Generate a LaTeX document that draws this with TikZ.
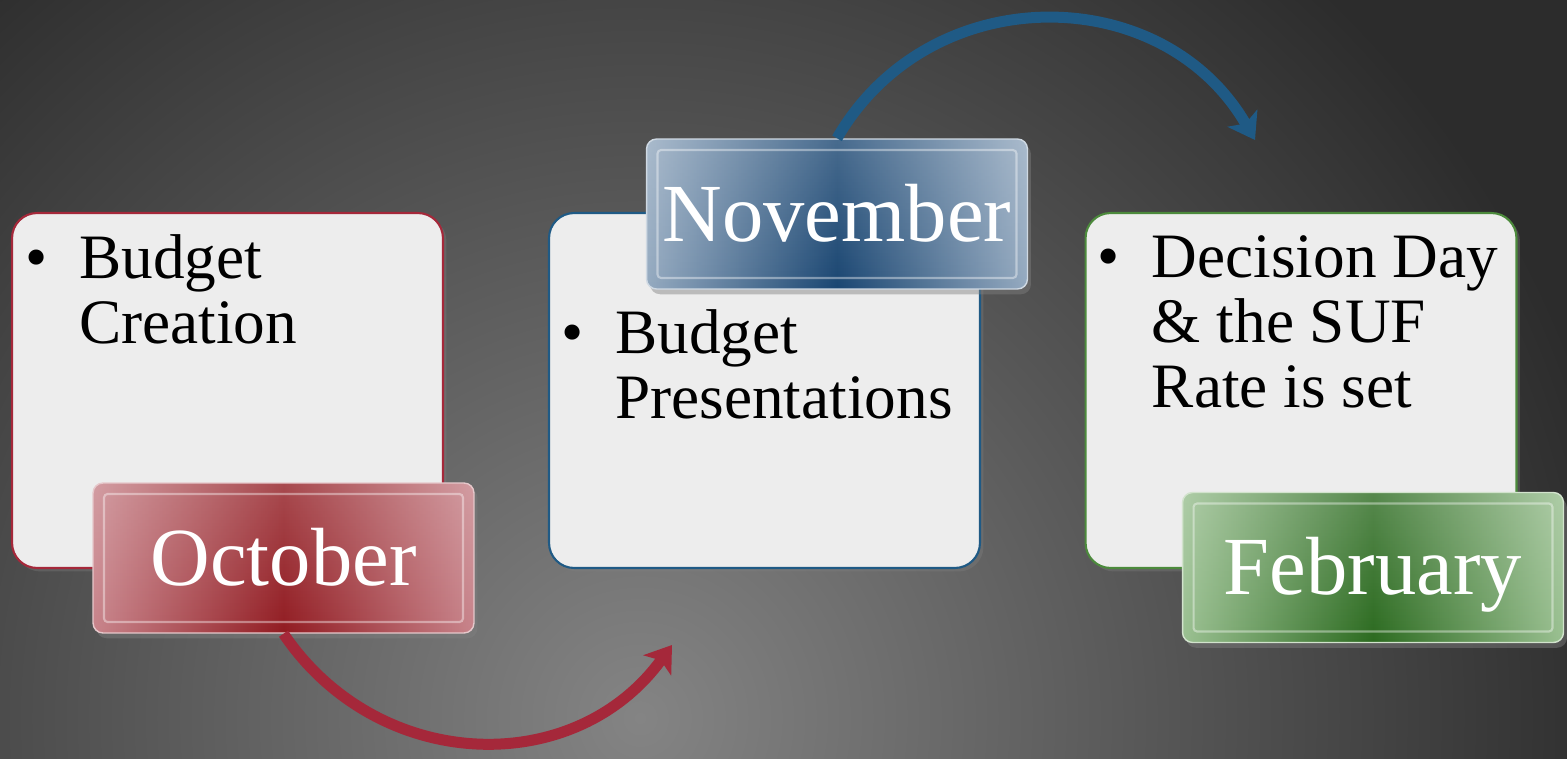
\documentclass[tikz,border=0pt]{standalone}
\usepackage{fontspec}
\setmainfont{Liberation Serif}
\usetikzlibrary{arrows.meta,shadows,fadings,positioning}

\definecolor{bgdark}{HTML}{2C2C2C}
\definecolor{bglight}{HTML}{848484}
\definecolor{cardfill}{HTML}{EDEDED}
\definecolor{octdark}{HTML}{921C22}
\definecolor{octpale}{HTML}{C8848B}
\definecolor{octline}{HTML}{A5283A}
\definecolor{novdark}{HTML}{1A4672}
\definecolor{novpale}{HTML}{95AAC0}
\definecolor{novline}{HTML}{1F5A85}
\definecolor{febdark}{HTML}{2C6B20}
\definecolor{febpale}{HTML}{9AC091}
\definecolor{febline}{HTML}{4C8A3C}

\tikzfading[name=glowtop, top color=transparent!80, bottom color=transparent!100]

\tikzset{
  card/.style={draw=#1, line width=1.2pt, fill=cardfill, rounded corners=0.5cm,
    minimum width=8.62cm, minimum height=7.1cm,
    drop shadow={opacity=0.35, shadow xshift=2pt, shadow yshift=-2pt}},
  item/.style={anchor=base west, align=left, inner sep=0pt, text=black,
    font=\fontsize{36}{37}\selectfont},
  month/.style 2 args={rounded corners=0.2cm, draw=white!55!#1, line width=0.8pt,
    left color=#1, right color=#1, middle color=#2,
    minimum width=7.62cm, minimum height=3.0cm,
    text=white, font=\fontsize{47}{50}\selectfont, text height=1.1cm, text depth=0cm,
    drop shadow={opacity=0.45, shadow xshift=2pt, shadow yshift=-3pt},
    path picture={
      \fill[white, path fading=glowtop] (path picture bounding box.south west)
        rectangle (path picture bounding box.north east);
      \draw[white, opacity=0.4, line width=1.2pt, rounded corners=2pt]
        ([shift={(0.22cm,0.22cm)}]path picture bounding box.south west) rectangle
        ([shift={(-0.22cm,-0.22cm)}]path picture bounding box.north east);}},
  arc/.style={draw=#1, line width=0.22cm,
    -{Stealth[length=0.5cm, width=0.68cm, inset=0.12cm]}}
}

\begin{document}
\begin{tikzpicture}[x=0.02cm, y=0.02cm]
    \useasboundingbox (0,0) rectangle (1567,758);

    % Background
    \begin{scope}
      \clip (0,0) rectangle (1567,758);
      \fill[bgdark] (0,0) rectangle (1567,758);
      \shade[inner color=bglight, outer color=bgdark] (640,40) circle (1000);
    \end{scope}

    % Cards
    \node[card=octline] (cre) at (227.5,367.5) {};
    \node[card=novline] (pre) at (764.5,367.5) {};
    \node[card=febline] (dec) at (1301,367.5) {};

    % Card texts (base = last line)
    \node[item] (cretext) at ([shift={(68,-132)}]cre.north west)
      {\llap{\textbullet\hspace{0.64cm}}Budget\\Creation};
    \node[item] (pretext) at ([shift={(67,-207)}]pre.north west)
      {\llap{\textbullet\hspace{0.64cm}}Budget\\Presentations};
    \node[item] (dectext) at ([shift={(67,-196)}]dec.north west)
      {\llap{\textbullet\hspace{0.64cm}}Decision Day\\\& the SUF\\Rate is set};

    % Months
    \node[month={octpale}{octdark}] (oct) at (283.5,200) {October};
    \node[month={novpale}{novdark}] (nov) at (837,544) {November};
    \node[month={febpale}{febdark}] (feb) at (1373,190.5) {February};

    % Arrows
    \coordinate (redtip) at (672,113);
    \coordinate (bluetip) at (1255,618);
    \draw[arc=octline] (oct.south) to[out=-56, in=234, looseness=1.1] (redtip);
    \draw[arc=novline] (nov.north) to[out=60, in=120, looseness=1.13] (bluetip);
\end{tikzpicture}
\end{document}
